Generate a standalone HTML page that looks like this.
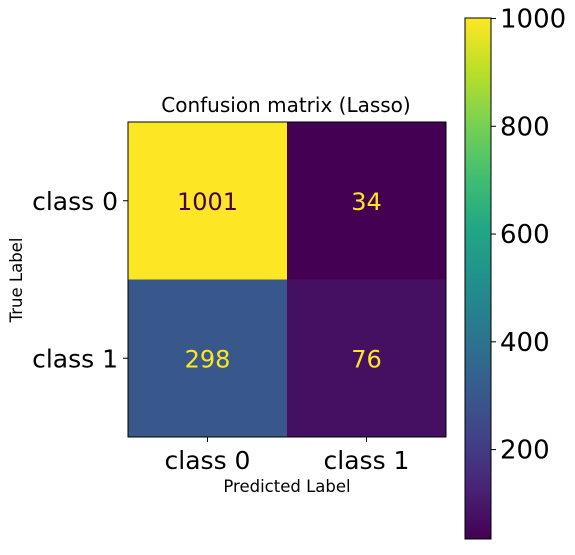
<!DOCTYPE html>
<html><head><meta charset="utf-8"><style>
body{margin:0;background:#fff;}
svg text{font-family:"DejaVu Sans","Liberation Sans",sans-serif;}
</style></head><body>
<svg id="chart" width="575" height="550">
<defs><linearGradient id="vir" x1="0" y1="1" x2="0" y2="0">
<stop offset="0" stop-color="#440154"/><stop offset="0.1" stop-color="#482475"/><stop offset="0.2" stop-color="#414487"/><stop offset="0.3" stop-color="#355f8d"/><stop offset="0.4" stop-color="#2a788e"/><stop offset="0.5" stop-color="#21918c"/><stop offset="0.6" stop-color="#22a884"/><stop offset="0.7" stop-color="#44bf70"/><stop offset="0.8" stop-color="#7ad151"/><stop offset="0.9" stop-color="#bddf26"/><stop offset="1" stop-color="#fde725"/>
</linearGradient></defs>
<text x="286" y="112" font-size="20" text-anchor="middle">Confusion matrix (Lasso)</text>
<g id="cells"></g>
<rect x="128" y="122" width="318" height="315" fill="none" stroke="#000" stroke-width="1"/>
<text x="287" y="492" font-size="16.5" text-anchor="middle">Predicted Label</text>
<text transform="translate(22,280) rotate(-90)" font-size="16.5" text-anchor="middle">True Label</text>
<rect x="465" y="18" width="26" height="521" fill="url(#vir)" stroke="#000" stroke-width="1"/>
<g id="cbticks"></g>
</svg>
<script>
const xLabels=["class 0","class 1"];
const yLabels=["class 0","class 1"];
const values=[[1001,34],[298,76]];
const cbTicks=[200,400,600,800,1000];
const stops=["#440154","#482475","#414487","#355f8d","#2a788e","#21918c","#22a884","#44bf70","#7ad151","#bddf26","#fde725"];
const NS="http://www.w3.org/2000/svg";
const flat=values.flat();const vmin=Math.min(...flat),vmax=Math.max(...flat);
function hex(h){return [1,3,5].map(i=>parseInt(h.substr(i,2),16));}
function vir(t){t=Math.max(0,Math.min(1,t));const p=t*10,i=Math.min(9,Math.floor(p)),f=p-i;const a=hex(stops[i]),b=hex(stops[i+1]);return "rgb("+a.map((v,k)=>Math.round(v+(b[k]-v)*f)).join(",")+")";}
const L=128,T=122,W=318,H=315;
const cw=W/xLabels.length,ch=H/yLabels.length;
const cells=document.getElementById('cells');
function mk(tag,at){const e=document.createElementNS(NS,tag);for(const k in at)e.setAttribute(k,at[k]);return e;}
values.forEach((row,r)=>row.forEach((v,c)=>{
 const t=(v-vmin)/(vmax-vmin);
 const rc=mk('rect',{x:L+c*cw,y:T+r*ch,width:cw,height:ch,fill:vir(t)});
 
 
 cells.appendChild(rc);
 const tx=mk('text',{x:L+(c+.5)*cw,y:T+(r+.5)*ch+9,'font-size':24,'text-anchor':'middle',fill:t>0.5?'#440154':'#fde725'});
 tx.textContent=v;
 
 
 cells.appendChild(tx);
}));
xLabels.forEach((s,c)=>{const x=L+(c+.5)*cw;
 cells.appendChild(mk('line',{x1:x,x2:x,y1:T+H,y2:T+H+5,stroke:'#000'}));
 const tx=mk('text',{x:x,y:469,'font-size':25,'text-anchor':'middle'});tx.textContent=s;
 
 
 cells.appendChild(tx);});
yLabels.forEach((s,r)=>{const y=T+(r+.5)*ch;
 cells.appendChild(mk('line',{x1:L-5,x2:L,y1:y,y2:y,stroke:'#000'}));
 const tx=mk('text',{x:118,y:y+9,'font-size':25,'text-anchor':'end'});tx.textContent=s;
 
 
 cells.appendChild(tx);});
const cb=document.getElementById('cbticks');
const cbY=v=>539-(v-vmin)/(vmax-vmin)*521;
cbTicks.forEach(v=>{const y=cbY(v);
 cb.appendChild(mk('line',{x1:491,x2:496,y1:y,y2:y,stroke:'#000'}));
 const tx=mk('text',{x:500,y:y+9,'font-size':26});tx.textContent=v;
 
 
 cb.appendChild(tx);});
</script>
</body></html>
